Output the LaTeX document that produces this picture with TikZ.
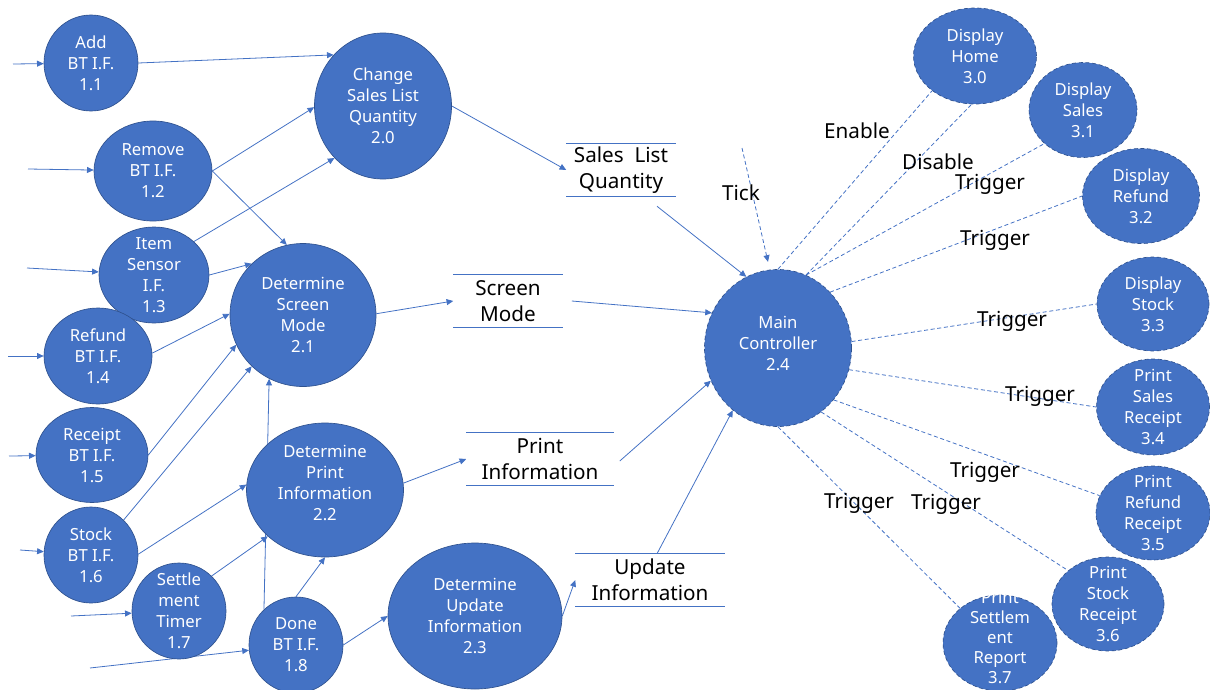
\documentclass[tikz,border=0pt]{standalone}
\usepackage{fontspec}
\setmainfont{Noto Sans}
\usetikzlibrary{shapes.geometric,arrows.meta,backgrounds}
\definecolor{procblue}{HTML}{4472C4}
\definecolor{procedge}{HTML}{2F528F}

\tikzset{
	esize/.style 2 args={minimum width=#1*0.75pt, minimum height=#2*0.75pt},
	proc/.style={ellipse, fill=procblue, draw=procedge, line width=0.5pt, inner sep=-14pt,
		text=white, align=center, font=\fontsize{12.5}{15.75}\selectfont},
	outp/.style={proc, densely dashed},
	store/.style={rectangle, inner sep=0pt, minimum height=52*0.75pt, align=center,
		font=\fontsize{15.5}{19.5}\selectfont},
	storeline/.style={procblue, line width=0.9pt},
	flow/.style={procblue, line width=0.6pt, -{Triangle[length=5pt,width=4.5pt]}},
	ctrl/.style={procblue, line width=0.6pt, densely dashed},
	lbl/.style={font=\fontsize{15.5}{19}\selectfont}
}

\begin{document}
\begin{tikzpicture}[x=0.75pt,y=-0.75pt]
	
	\useasboundingbox (0,0) rectangle (1210,689);
	
	% interface processes
	\node[proc, esize={94}{96}]  (a11) at (91,63)   {Add\\BT I.F.\\1.1};
	\node[proc, esize={118}{100}] (r12) at (153,171) {Remove\\BT I.F.\\1.2};
	\node[proc, esize={110}{96}] (i13) at (154,275) {Item\\Sensor\\I.F.\\1.3};
	\node[proc, esize={108}{96}] (f14) at (98,356)  {Refund\\BT I.F.\\1.4};
	\node[proc, esize={112}{95}] (c15) at (92,455)  {Receipt\\BT I.F.\\1.5};
	\node[proc, esize={94}{96}]  (s16) at (91,555)  {Stock\\BT I.F.\\1.6};
	\node[proc, esize={94}{96}]  (t17) at (179,611) {Settle\\ment\\Timer\\1.7};
	\node[proc, esize={94}{96}]  (d18) at (296,645) {Done\\BT I.F.\\1.8};
	
	% second level
	\node[proc, esize={137}{146}] (q20) at (383,106) {Change\\Sales List\\Quantity\\2.0};
	\node[proc, esize={146}{143}] (m21) at (303,315) {Determine\\Screen\\Mode\\2.1};
	\node[proc, esize={157}{134}, text depth=10pt] (p22) at (325,490) {Determine\\Print\\Information\\2.2};
	\node[proc, esize={174}{146}] (u23) at (475,616) {Determine\\Update\\Information\\2.3};
	\node[outp, esize={147}{157}, text depth=7pt] (main) at (778,348) {Main\\Controller\\2.4};
	
	% outputs
	\node[outp, esize={123}{96}] (h30)  at (975,56)   {Display\\Home\\3.0};
	\node[outp, esize={108}{95}] (s31)  at (1083,110) {Display\\Sales\\3.1};
	\node[outp, esize={117}{95}] (r32)  at (1141,196) {Display\\Refund\\3.2};
	\node[outp, esize={112}{94}] (k33)  at (1153,304) {Display\\Stock\\3.3};
	\node[outp, esize={113}{96}] (ps34) at (1153,407) {Print\\Sales\\Receipt\\3.4};
	\node[outp, esize={114}{94}] (pr35) at (1153,513) {Print\\Refund\\Receipt\\3.5};
	\node[outp, esize={112}{94}] (pk36) at (1108,604) {Print\\Stock\\Receipt\\3.6};
	\node[outp, esize={114}{96}, text depth=8pt, font=\fontsize{12.5}{15}\selectfont]
		(pt37) at (1000,643) {Print\\Settlem\\ent\\Report\\3.7};
	
	% data stores
	\node[store, minimum width=109*0.75pt] (slq) at (621,170) {Sales~ List\\Quantity};
	\node[store, minimum width=109*0.75pt] (sm)  at (508,301) {Screen\\Mode};
	\node[store, minimum width=147*0.75pt] (pi)  at (540,459) {Print\\Information};
	\node[store, minimum width=149*0.75pt] (ui)  at (650,580) {Update\\Information};
	\foreach \s in {slq,sm,pi,ui}
		\draw[storeline] (\s.north west) -- (\s.north east) (\s.south west) -- (\s.south east);
	
	% labels
	\node[lbl] (tick) at (741,193)  {Tick};
	\node[lbl] (en)   at (857,131)  {Enable};
	\node[lbl] (dis)  at (938,162)  {Disable};
	\node[lbl] (tg1)  at (990,184)  {Trigger};
	\node[lbl] (tg2)  at (995,240)  {Trigger};
	\node[lbl] (tg3)  at (1012,321) {Trigger};
	\node[lbl] (tg4)  at (1040,396) {Trigger};
	\node[lbl] (tg5)  at (985,472)  {Trigger};
	\node[lbl] (tg6)  at (946,504)  {Trigger};
	\node[lbl] (tg7)  at (859,503)  {Trigger};
	
	% free ends
	\coordinate (in1) at (13,64);
	\coordinate (in2) at (28,169);
	\coordinate (in3) at (27,268);
	\coordinate (in4) at (8,356);
	\coordinate (in5) at (9,456);
	\coordinate (in6) at (20,550);
	\coordinate (in7) at (71,616);
	\coordinate (in8) at (90,668);
	\coordinate (tk)  at (742,148);
	
	\begin{scope}[on background layer]
		% inputs
		\draw[flow] (in1) -- (a11);
		\draw[flow] (in2) -- (r12);
		\draw[flow] (in3) -- (i13);
		\draw[flow] (in4) -- (f14);
		\draw[flow] (in5) -- (c15);
		\draw[flow] (in6) -- (s16);
		\draw[flow] (in7) -- (t17);
		\draw[flow] (in8) -- (d18);
		
		% interfaces to second level
		\draw[flow] (a11.0)   -- (q20.134);
		\draw[flow] (r12.0)   -- (q20.181);
		\draw[flow] (r12.0)   -- (m21.103);
		\draw[flow] (i13.40)  -- (q20.227);
		\draw[flow] (i13.0)   -- (m21.135);
		\draw[flow] (f14.3)   -- (m21.179);
		\draw[flow] (c15.0)   -- (m21.204);
		\draw[flow] (s16.47)  -- (m21.225);
		\draw[flow] (s16.1)   -- (p22.176);
		\draw[flow] (t17.47)  -- (p22.219);
		\draw[flow] (d18.132) -- (m21.242);
		\draw[flow] (d18.90)  -- (p22.270);
		\draw[flow] (d18.0)   -- (u23.180);
		
		% into stores
		\draw[flow] (q20.0) -- (slq.west);
		\draw[flow] (m21.1) -- (sm.west);
		\draw[flow] (p22.5) -- (pi.west);
		\draw[flow] (u23.0) -- (ui.west);
		
		% stores to controller
		\draw[flow] ([shift={(36,10)}]slq.south) -- (main.114);
		\draw[flow] ([shift={(9,0)}]sm.east)     -- (main.152);
		\draw[flow] ([shift={(6,2)}]pi.east)     -- (main.206);
		\draw[flow] ([shift={(7,0)}]ui.north)    -- (main.234);
		\draw[ctrl, -{Triangle[length=5pt,width=4.5pt]}, shorten >=6pt] (tk) -- (main.96);
		
		% controller to outputs
		\draw[ctrl] (main.90)  -- (h30.219);
		\draw[ctrl] (main.69)  -- (h30.266);
		\draw[ctrl] (main.69)  -- (s31.221);
		\draw[ctrl] (main.47)  -- (r32.180);
		\draw[ctrl] (main.5)   -- (k33.180);
		\draw[ctrl] (main.-17) -- (ps34.180);
		\draw[ctrl] (main.-43) -- (pr35.162);
		\draw[ctrl] (main.-56) -- (pk36.140);
		\draw[ctrl] (main.270) -- (pt37.139);
	\end{scope}
\end{tikzpicture}
\end{document}
